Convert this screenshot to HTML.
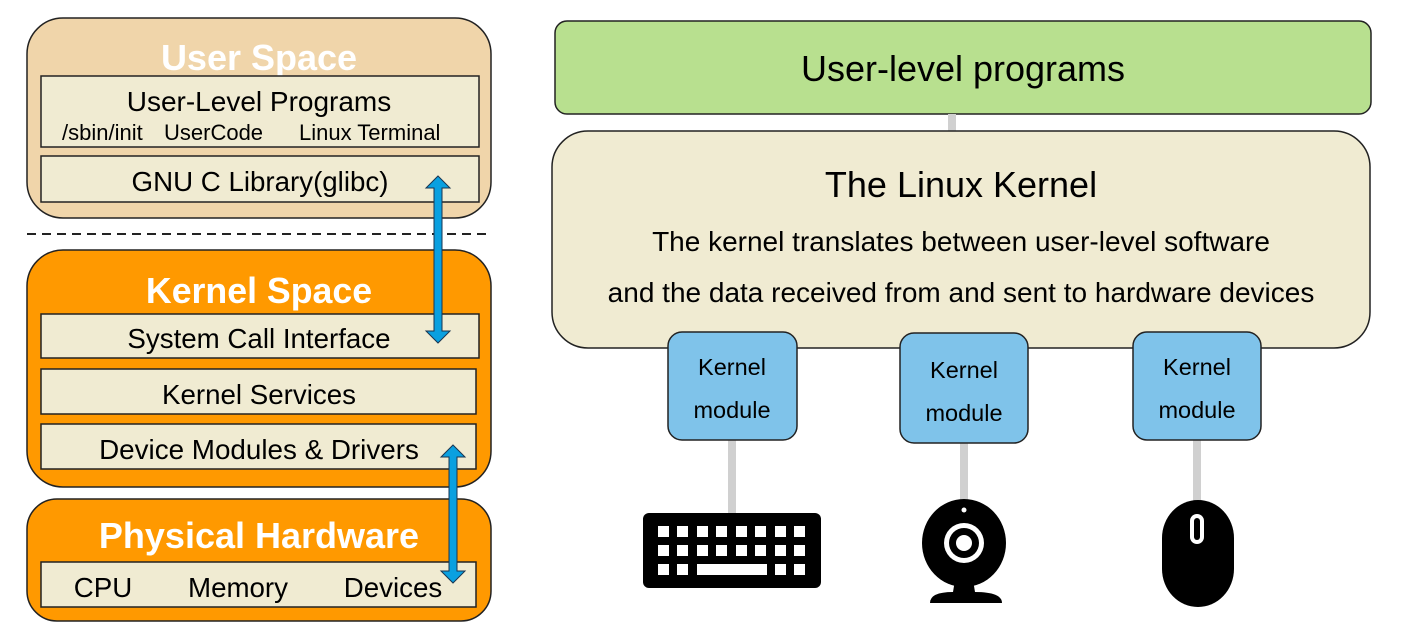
<!DOCTYPE html>
<html><head><meta charset="utf-8"><style>
html,body{margin:0;padding:0;background:#fff;}
svg{display:block;font-family:"Liberation Sans",Arial,sans-serif;}
</style></head><body>
<svg width="1401" height="636" viewBox="0 0 1401 636" xmlns="http://www.w3.org/2000/svg">
<!-- User space -->
<rect x="27" y="18" width="464" height="200" rx="36" fill="#f0d5aa" stroke="#222" stroke-width="1.5"/>
<text x="259" y="70" font-size="36" font-weight="bold" fill="#fff" text-anchor="middle">User Space</text>
<rect x="41" y="76" width="438" height="71" fill="#f0ebd2" stroke="#222" stroke-width="1.5"/>
<text x="259" y="111" font-size="28" text-anchor="middle">User-Level Programs</text>
<text x="62" y="140" font-size="22">/sbin/init</text>
<text x="164" y="140" font-size="22">UserCode</text>
<text x="299" y="140" font-size="22">Linux Terminal</text>
<rect x="41" y="156" width="438" height="46" fill="#f0ebd2" stroke="#222" stroke-width="1.5"/>
<text x="260" y="191" font-size="27.7" text-anchor="middle">GNU C Library(glibc)</text>
<line x1="27" y1="234" x2="487" y2="234" stroke="#222" stroke-width="2" stroke-dasharray="9,6"/>
<!-- Kernel space -->
<rect x="27" y="250" width="464" height="237" rx="36" fill="#ff9900" stroke="#222" stroke-width="1.5"/>
<text x="259" y="303" font-size="35.7" font-weight="bold" fill="#fff" text-anchor="middle">Kernel Space</text>
<rect x="41" y="314" width="438" height="44" fill="#f0ebd2" stroke="#222" stroke-width="1.5"/>
<text x="259" y="348" font-size="27.7" text-anchor="middle">System Call Interface</text>
<rect x="41" y="369" width="435" height="45" fill="#f0ebd2" stroke="#222" stroke-width="1.5"/>
<text x="259" y="404" font-size="27.7" text-anchor="middle">Kernel Services</text>
<rect x="41" y="424" width="435" height="45" fill="#f0ebd2" stroke="#222" stroke-width="1.5"/>
<text x="259" y="459" font-size="27.8" text-anchor="middle">Device Modules &amp; Drivers</text>
<!-- Physical -->
<rect x="27" y="499" width="464" height="122" rx="30" fill="#ff9900" stroke="#222" stroke-width="1.5"/>
<text x="259" y="548" font-size="36" font-weight="bold" fill="#fff" text-anchor="middle">Physical Hardware</text>
<rect x="41" y="562" width="435" height="45" fill="#f0ebd2" stroke="#222" stroke-width="1.5"/>
<text x="103" y="597" font-size="27.7" text-anchor="middle">CPU</text>
<text x="238" y="597" font-size="27.7" text-anchor="middle">Memory</text>
<text x="393" y="597" font-size="27.7" text-anchor="middle">Devices</text>
<!-- arrows -->
<path d="M438,176 L450,188 L442,188 L442,331 L450,331 L438,343 L426,331 L434,331 L434,188 L426,188 Z" fill="#0aa0e0" stroke="#1a3550" stroke-width="1"/>
<path d="M453,445 L465,457 L457,457 L457,571 L465,571 L453,583 L441,571 L449,571 L449,457 L441,457 Z" fill="#0aa0e0" stroke="#1a3550" stroke-width="1"/>
<!-- Right side -->
<rect x="555" y="21" width="816" height="93" rx="12" fill="#b8e08f" stroke="#222" stroke-width="1.5"/>
<text x="963" y="81" font-size="36" text-anchor="middle">User-level programs</text>
<rect x="948" y="114" width="8" height="18" fill="#d0d0d0"/>
<rect x="552" y="131" width="818" height="217" rx="36" fill="#f0ebd2" stroke="#222" stroke-width="1.5"/>
<text x="961" y="197" font-size="36" text-anchor="middle">The Linux Kernel</text>
<text x="961" y="251" font-size="28" text-anchor="middle">The kernel translates between user-level software</text>
<text x="961" y="302" font-size="28" text-anchor="middle">and the data received from and sent to hardware devices</text>
<!-- connectors -->
<rect x="728" y="440" width="8" height="75" fill="#d0d0d0"/>
<rect x="960" y="443" width="8" height="60" fill="#d0d0d0"/>
<rect x="1193" y="440" width="8" height="62" fill="#d0d0d0"/>
<!-- modules -->
<g font-size="23.5" text-anchor="middle">
<rect x="668" y="332" width="129" height="108" rx="14" fill="#7fc3ea" stroke="#222" stroke-width="1.5"/>
<text x="732" y="375">Kernel</text><text x="732" y="418">module</text>
<rect x="900" y="333" width="128" height="110" rx="14" fill="#7fc3ea" stroke="#222" stroke-width="1.5"/>
<text x="964" y="378">Kernel</text><text x="964" y="421">module</text>
<rect x="1133" y="332" width="128" height="108" rx="14" fill="#7fc3ea" stroke="#222" stroke-width="1.5"/>
<text x="1197" y="375">Kernel</text><text x="1197" y="418">module</text>
</g>
<!-- keyboard -->
<rect x="643" y="513" width="178" height="75" rx="6" fill="#000"/>
<g fill="#fff">
<rect x="658" y="526" width="11" height="11"/><rect x="677" y="526" width="11" height="11"/><rect x="697" y="526" width="11" height="11"/><rect x="716" y="526" width="11" height="11"/><rect x="736" y="526" width="11" height="11"/><rect x="755" y="526" width="11" height="11"/><rect x="775" y="526" width="11" height="11"/><rect x="794" y="526" width="11" height="11"/>
<rect x="658" y="545" width="11" height="11"/><rect x="677" y="545" width="11" height="11"/><rect x="697" y="545" width="11" height="11"/><rect x="716" y="545" width="11" height="11"/><rect x="736" y="545" width="11" height="11"/><rect x="755" y="545" width="11" height="11"/><rect x="775" y="545" width="11" height="11"/><rect x="794" y="545" width="11" height="11"/>
<rect x="658" y="564" width="11" height="11"/><rect x="677" y="564" width="11" height="11"/><rect x="697" y="564" width="70" height="11"/><rect x="775" y="564" width="11" height="11"/><rect x="794" y="564" width="11" height="11"/>
</g>
<!-- webcam -->
<path d="M955,580 L973,580 L975,592 Q1002,592 1002,603 L930,603 Q930,592 953,592 Z" fill="#000"/>
<ellipse cx="964" cy="543" rx="42" ry="44" fill="#000"/>
<circle cx="964" cy="510" r="2.5" fill="#fff"/>
<circle cx="964" cy="543" r="20" fill="#fff"/>
<circle cx="964" cy="543" r="15" fill="#000"/>
<circle cx="964" cy="543" r="8" fill="#fff"/>
<!-- mouse -->
<rect x="1162" y="500" width="72" height="107" rx="36" ry="38" fill="#000"/>
<rect x="1190" y="514" width="14" height="30" rx="7" fill="#fff"/>
<rect x="1194" y="518" width="6" height="22" rx="3" fill="#000"/>
</svg>
</body></html>
